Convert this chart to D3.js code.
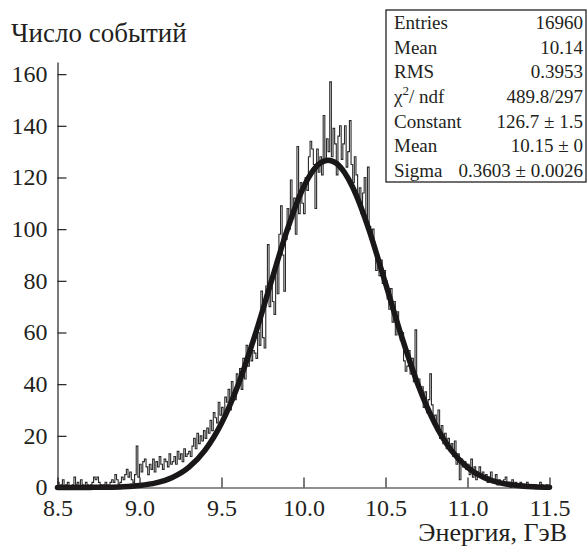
<!DOCTYPE html>
<html>
<head>
<meta charset="utf-8">
<script src="https://cdn.jsdelivr.net/npm/d3@7"></script>
<style>
  body { margin: 0; background: #fff; }
  svg text { font-family: "Liberation Serif", "Times New Roman", serif; fill: #231f20; }
</style>
</head>
<body>
<div id="chart"></div>
<script>
// histogram: 300 bins, 8.5 .. 11.5 GeV, width 0.01
let binStart = 8.5
let binWidth = 0.01
let counts = [
    2, 0, 1, 3, 0, 1, 2, 0, 0, 1,
    4, 1, 2, 0, 3, 1, 0, 2, 1, 0,
    1, 2, 4, 3, 4, 2, 1, 0, 1, 2,
    1, 0, 2, 3, 2, 5, 3, 1, 2, 4,
    3, 5, 7, 4, 6, 3, 2, 5, 16, 4,
    9, 6, 10, 11, 8, 5, 9, 7, 11, 6,
    10, 8, 12, 9, 7, 11, 10, 8, 13, 9,
    10, 12, 9, 14, 11, 13, 10, 15, 12, 13,
    14, 12, 16, 19, 15, 21, 17, 20, 18, 22,
    19, 23, 21, 26, 22, 29, 27, 25, 33, 28,
    31, 27, 35, 33, 38, 30, 41, 36, 34, 44,
    40, 46, 38, 50, 42, 55, 47, 52, 49, 53,
    52, 50, 60, 55, 76, 58, 54, 78, 94, 70,
    79, 72, 67, 85, 75, 98, 109, 90, 76, 96,
    108, 100, 119, 104, 112, 98, 132, 106, 118, 110,
    106, 120, 115, 128, 134, 131, 125, 108, 131, 122,
    128, 121, 144, 126, 135, 130, 157, 128, 139, 133,
    121, 136, 140, 127, 133, 140, 124, 130, 142, 125,
    118, 128, 121, 112, 116, 106, 114, 120, 103, 124,
    101, 96, 100, 92, 84, 90, 82, 88, 79, 84,
    80, 73, 69, 77, 64, 72, 59, 68, 62, 57,
    60, 49, 45, 47, 53, 44, 50, 41, 61, 39,
    42, 36, 39, 31, 37, 29, 34, 44, 32, 25,
    28, 22, 30, 19, 24, 17, 21, 15, 19, 14,
    17, 12, 18, 9, 13, 3, 11, 8, 10, 7,
    9, 5, 11, 4, 8, 3, 6, 8, 4, 6,
    3, 5, 2, 4, 6, 2, 3, 5, 1, 3,
    2, 1, 3, 4, 1, 2, 0, 3, 1, 2,
    1, 0, 2, 1, 0, 1, 2, 0, 1, 0,
    0, 1, 0, 0, 2, 1, 0, 0, 1, 0
]

// fitted gaussian
let fitX = [8.5, 8.6, 8.7, 8.8, 8.9, 9.0, 9.1, 9.2, 9.3, 9.4, 9.5, 9.6, 9.7, 9.8, 9.9, 9.95, 10.0,
    10.05, 10.1, 10.15, 10.2, 10.25, 10.3, 10.35, 10.4, 10.5, 10.6, 10.7, 10.8, 10.9, 11.0,
    11.1, 11.2, 11.3, 11.4, 11.5]
let fitY = [0.0, 0.01, 0.04, 0.11, 0.31, 0.78, 1.8, 3.9, 7.8, 14.5, 24.9, 39.5, 58.1, 79.0, 99.6, 108.6, 116.2,
    121.9, 125.5, 126.7, 125.5, 121.9, 116.2, 108.6, 99.6, 79.0, 58.1, 39.5, 24.9, 14.5, 7.8,
    3.9, 1.8, 0.78, 0.31, 0.11]

let xTicks = [8.5, 9.0, 9.5, 10.0, 10.5, 11.0, 11.5]
let yTicks = [0, 20, 40, 60, 80, 100, 120, 140, 160]

let statLabels = ["Entries", "Mean", "RMS", "χ2/ ndf", "Constant", "Mean", "Sigma"]
let statValues = ["16960", "10.14", "0.3953", "489.8/297", "126.7 ± 1.5", "10.15 ± 0", "0.3603 ± 0.0026"]

let width = 588, height = 548
let margin = { left: 57.5, right: 38.5, top: 62, bottom: 60.5 }

let svg = d3.select('#chart')
    .append('svg')
    .attr('width', width)
    .attr('height', height)

let xScale = d3.scaleLinear()
    .domain([8.5, 11.5])
    .range([margin.left, width - margin.right])

let yScale = d3.scaleLinear()
    .domain([0, 164.7])
    .range([height - margin.bottom, margin.top])

// histogram outline
let pts = counts.map((c, i) => [binStart + i * binWidth, c])
pts.push([binStart + counts.length * binWidth, counts[counts.length - 1]])

let stepLine = d3.line()
    .x(d => xScale(d[0]))
    .y(d => yScale(d[1]))
    .curve(d3.curveStepAfter)

svg.append('path')
    .datum(pts)
    .attr('d', stepLine)
    .attr('fill', 'none')
    .attr('stroke', '#2b2b2b')
    .attr('stroke-width', 1.1)

// fit curve
let fitLine = d3.line()
    .x((d, i) => xScale(fitX[i]))
    .y(d => yScale(d))
    .curve(d3.curveMonotoneX)

svg.append('path')
    .datum(fitY)
    .attr('d', fitLine)
    .attr('fill', 'none')
    .attr('stroke', '#1a1718')
    .attr('stroke-width', 5.5)
    .attr('stroke-linecap', 'round')

// axes
let xAxis = d3.axisBottom(xScale)
    .tickValues(xTicks)
    .tickFormat(d3.format('.1f'))
    .tickSizeInner(-10)
    .tickSizeOuter(0)
    .tickPadding(11)

let gx = svg.append('g')
    .attr('transform', `translate(0, ${yScale(0)})`)
    .call(xAxis)

let yAxis = d3.axisLeft(yScale)
    .tickValues(yTicks)
    .tickSizeInner(-9)
    .tickSizeOuter(0)
    .tickPadding(10)

let gy = svg.append('g')
    .attr('transform', `translate(${xScale(8.5)}, 0)`)
    .call(yAxis)

svg.selectAll('.domain').attr('stroke', '#231f20').attr('stroke-width', 1.2)
svg.selectAll('.tick line').attr('stroke', '#231f20').attr('stroke-width', 1.2)
svg.selectAll('.tick text')
    .attr('font-size', 24)
    .style('font-family', '"Liberation Serif", serif')
    .attr('fill', '#231f20')
gy.selectAll('.tick text').attr('dy', '0.3em')

// titles
svg.append('text')
    .text('Число событий')
    .attr('x', 11)
    .attr('y', 42)
    .attr('font-size', 27)

svg.append('text')
    .text('Энергия, ГэВ')
    .attr('x', 567)
    .attr('y', 541)
    .attr('text-anchor', 'end')
    .attr('font-size', 26)

// stats box
let box = { x: 386, y: 10, w: 200, h: 172 }
let rowH = box.h / statLabels.length

let stats = svg.append('g')

stats.append('rect')
    .attr('x', box.x)
    .attr('y', box.y)
    .attr('width', box.w)
    .attr('height', box.h)
    .attr('fill', '#fff')
    .attr('stroke', '#231f20')
    .attr('stroke-width', 1.3)

statLabels.forEach((lab, i) => {
    let y = box.y + rowH * i + rowH / 2 + 7
    let t = stats.append('text')
        .attr('x', box.x + 8)
        .attr('y', y)
        .attr('font-size', 19)
    if (lab.startsWith('χ2')) {
        t.append('tspan').text('χ')
        t.append('tspan').text('2').attr('font-size', 13).attr('dy', -8)
        t.append('tspan').text('/ ndf').attr('dy', 8)
    } else {
        t.text(lab)
    }
    stats.append('text')
        .text(statValues[i])
        .attr('x', box.x + box.w - 3)
        .attr('y', y)
        .attr('text-anchor', 'end')
        .attr('font-size', 19)
})
</script>
</body>
</html>
